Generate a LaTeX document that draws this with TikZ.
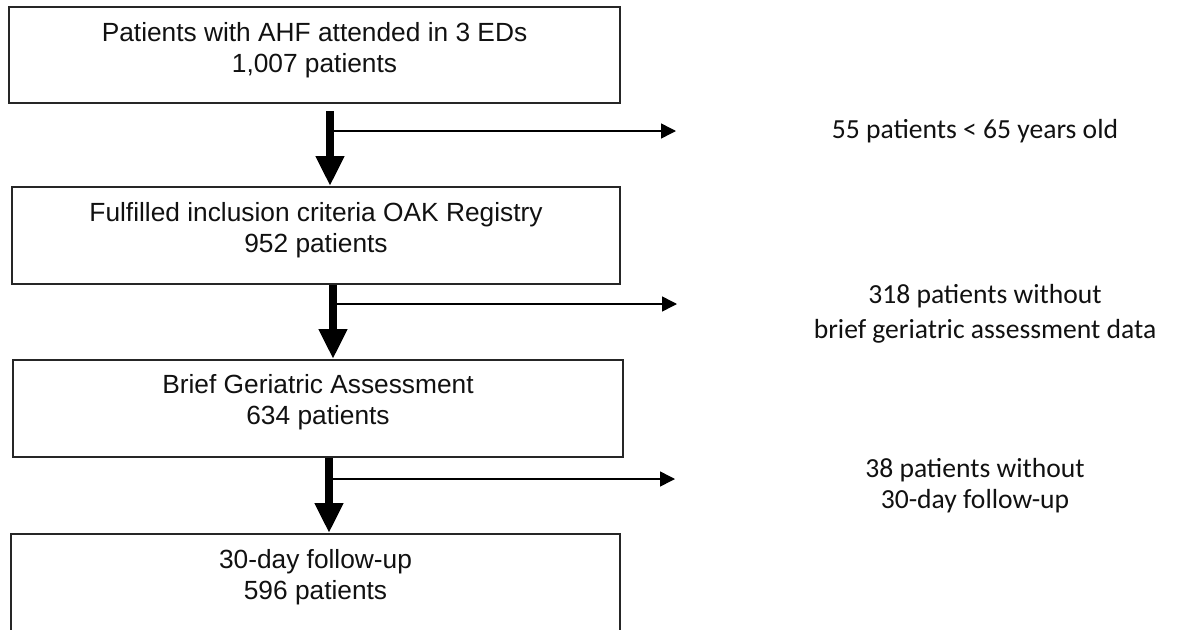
\documentclass[tikz,border=0pt]{standalone}
\usepackage{fontspec}
\setmainfont{Liberation Sans}
\newfontfamily\carlito{Carlito}
\usetikzlibrary{arrows.meta}
\definecolor{boxline}{HTML}{262626}
\definecolor{ink}{HTML}{111111}
\begin{document}
\begin{tikzpicture}[x=1pt,y=-1pt,
  box/.style={draw=boxline,line width=2pt,rectangle,inner sep=0pt},
  boxtext/.style={anchor=north,inner sep=0pt,align=center,text=ink,font=\fontsize{26.3}{31}\selectfont},
  sidetext/.style={anchor=north,inner sep=0pt,align=center,text=ink},
  bigarrow/.style={draw=black,line width=8pt,-{Triangle[length=30pt,width=27pt]}},
  smallarrow/.style={draw=black,line width=1.5pt,-{Triangle[length=15pt,width=15pt]}}]
\path[use as bounding box,clip] (0,0) rectangle (1177,629);
\fill[white] (0,0) rectangle (1177,629);
% boxes
\node[box,minimum width=611pt,minimum height=96pt] (b1) at (314.5,55) {};
\node[box,minimum width=608pt,minimum height=97pt] (b2) at (316,235.5) {};
\node[box,minimum width=610pt,minimum height=97pt] (b3) at (318,408.5) {};
\node[box,minimum width=609pt,minimum height=97pt] (b4) at (315.5,582.5) {};
% box texts
\node[boxtext] (t1) at (314.5,19.3) {\strut Patients with AHF attended in 3 EDs\\\strut 1,007 patients};
\node[boxtext] (t2) at (316,199.3) {\strut Fulfilled inclusion criteria OAK Registry\\\strut 952 patients};
\node[boxtext] (t3) at (318,371.3) {\strut Brief Geriatric Assessment\\\strut 634 patients};
\node[boxtext] (t4) at (315.5,546.3) {\strut 30-day follow-up\\\strut 596 patients};
% side texts
\node[sidetext,font=\carlito\fontsize{27.6}{35}\selectfont] (s1) at (975,113.3) {\strut 55 patients < 65 years old};
\node[sidetext,font=\carlito\fontsize{27.6}{35}\selectfont] (s2) at (985,278.5) {\strut 318 patients without\\\strut brief geriatric assessment data};
\node[sidetext,font=\carlito\fontsize{27.6}{31}\selectfont] (s3) at (975,455.3) {\strut 38 patients without\\\strut 30-day follow-up};
% shaft x positions and free ends of side arrows
\coordinate (x1) at (330,0);
\coordinate (x2) at (333,0);
\coordinate (x3) at (329,0);
\coordinate (e1) at (676,131);
\coordinate (e2) at (677,304);
\coordinate (e3) at (675,479);
% main arrows
\draw[bigarrow,shorten <=7pt] (b1.south -| x1) -- (b2.north -| x1);
\draw[bigarrow] (b2.south -| x2) -- (b3.north -| x2);
\draw[bigarrow] (b3.south -| x3) -- (b4.north -| x3);
% side arrows
\draw[smallarrow] (e1 -| x1) -- (e1);
\draw[smallarrow] (e2 -| x2) -- (e2);
\draw[smallarrow] (e3 -| x3) -- (e3);
\end{tikzpicture}
\end{document}
